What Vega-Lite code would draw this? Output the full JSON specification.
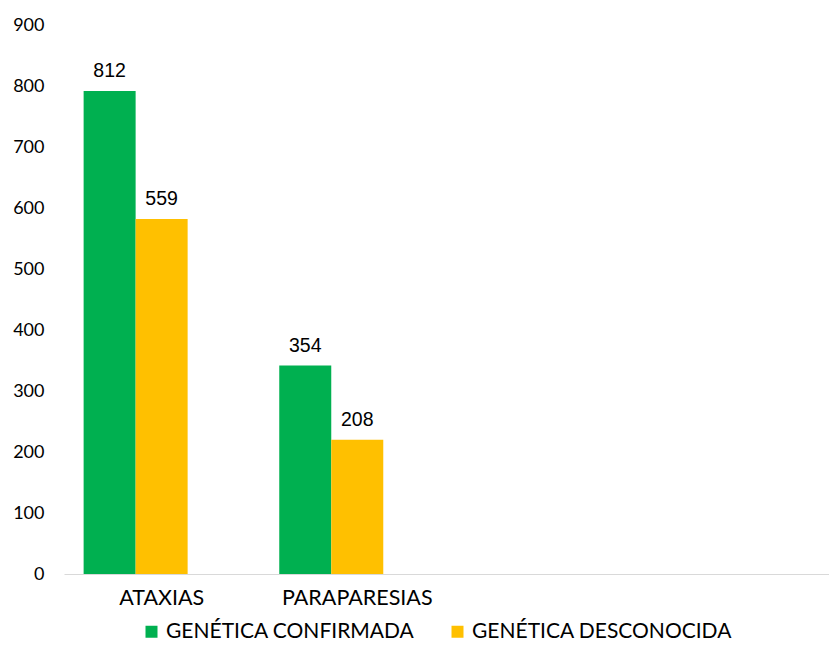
{
  "$schema": "https://vega.github.io/schema/vega-lite/v6.json",
  "width": 766,
  "height": 549,
  "padding": {"top": 16, "left": 12, "right": 0, "bottom": 5},
  "autosize": {"type": "pad"},
  "background": "white",
  "config": {"view": {"stroke": null}, "font": "Lato"},
  "data": {
    "values": [
      {"categoria": "ATAXIAS", "genetica": "GENÉTICA CONFIRMADA", "altura": 792, "etiqueta": "812"},
      {"categoria": "ATAXIAS", "genetica": "GENÉTICA DESCONOCIDA", "altura": 582, "etiqueta": "559"},
      {"categoria": "PARAPARESIAS", "genetica": "GENÉTICA CONFIRMADA", "altura": 342, "etiqueta": "354"},
      {"categoria": "PARAPARESIAS", "genetica": "GENÉTICA DESCONOCIDA", "altura": 220, "etiqueta": "208"}
    ]
  },
  "encoding": {
    "x": {
      "field": "categoria",
      "type": "nominal",
      "sort": null,
      "scale": {"domain": ["ATAXIAS", "PARAPARESIAS", "_3", "_4"], "paddingInner": 0.2025, "paddingOuter": 0.059, "align": 0.85},
      "axis": {
        "title": null,
        "labelAngle": 0,
        "labelExpr": "indexof(datum.label, '_') == 0 ? '' : datum.label",
        "labelFont": "Lato",
        "labelFontSize": 21.5,
        "labelColor": "#000000",
        "labelPadding": 13,
        "ticks": false,
        "domainColor": "#d9d9d9",
        "domainWidth": 1,
        "grid": false
      }
    },
    "xOffset": {
      "field": "genetica",
      "type": "nominal",
      "scale": {"domain": ["GENÉTICA CONFIRMADA", "GENÉTICA DESCONOCIDA", "_vacio"], "paddingInner": 0, "paddingOuter": 0}
    },
    "y": {
      "field": "altura",
      "type": "quantitative",
      "scale": {"domain": [0, 900], "nice": false},
      "axis": {
        "title": null,
        "values": [0, 100, 200, 300, 400, 500, 600, 700, 800, 900],
        "labelFont": "Lato",
        "labelFontSize": 18,
        "labelColor": "#000000",
        "labelPadding": 20,
        "ticks": false,
        "domain": false,
        "grid": false
      }
    }
  },
  "layer": [
    {
      "mark": {"type": "bar"},
      "encoding": {
        "color": {
          "field": "genetica",
          "type": "nominal",
          "scale": {"domain": ["GENÉTICA CONFIRMADA", "GENÉTICA DESCONOCIDA"], "range": ["#00B050", "#FFC000"]},
          "legend": {
            "title": null,
            "orient": "none",
            "legendX": 77,
            "legendY": 596,
            "direction": "horizontal",
            "symbolType": "square",
            "symbolSize": 144,
            "symbolStrokeWidth": 0,
            "labelFont": "Lato",
            "labelFontSize": 21,
            "labelColor": "#000000",
            "labelLimit": 400,
            "labelOffset": 4,
            "columnPadding": 32
          }
        }
      }
    },
    {
      "mark": {"type": "text", "dy": -13.5, "baseline": "alphabetic", "font": "Liberation Sans", "fontSize": 19.5, "color": "#000000"},
      "encoding": {"text": {"field": "etiqueta", "type": "nominal"}}
    }
  ]
}
